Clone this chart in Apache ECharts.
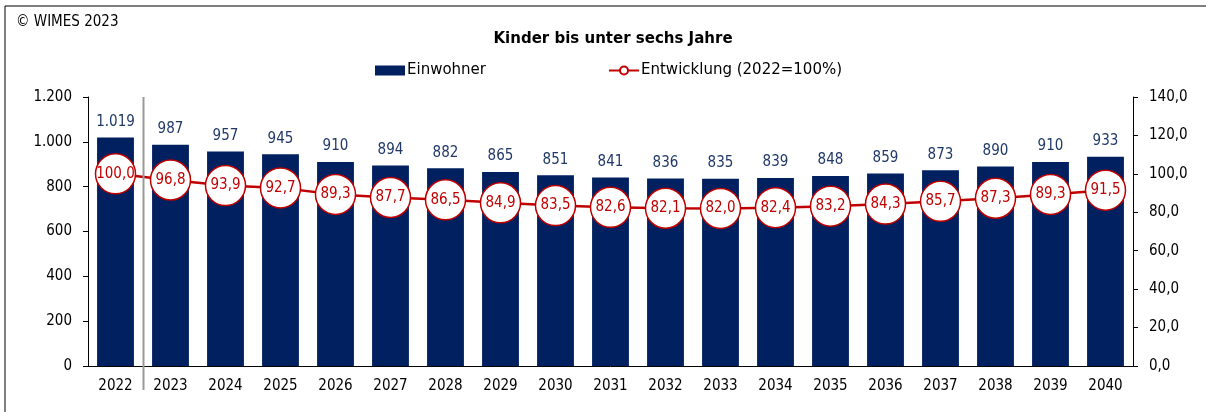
<!DOCTYPE html>
<html>
<head>
<meta charset="utf-8">
<script src="https://cdn.jsdelivr.net/npm/echarts@6/dist/echarts.min.js"></script>
<style>
  body { margin: 0; background: #fff; }
  #main { width: 1206px; height: 412px; }
</style>
</head>
<body>
<div id="main"></div>
<script>
var years = ['2022','2023','2024','2025','2026','2027','2028','2029','2030','2031','2032','2033','2034','2035','2036','2037','2038','2039','2040'];
var einwohner = [1019, 987, 957, 945, 910, 894, 882, 865, 851, 841, 836, 835, 839, 848, 859, 873, 890, 910, 933];
var entwicklung = [100.0, 96.8, 93.9, 92.7, 89.3, 87.7, 86.5, 84.9, 83.5, 82.6, 82.1, 82.0, 82.4, 83.2, 84.3, 85.7, 87.3, 89.3, 91.5];

var font = '"DejaVu Sans Condensed", "DejaVu Sans"';
var wide = '"DejaVu Sans"';
var myChart = echarts.init(document.getElementById('main'));

function deNum(v, dec) {
  var s = v.toFixed(dec).replace('.', ',');
  var parts = s.split(',');
  parts[0] = parts[0].replace(/\B(?=(\d{3})+(?!\d))/g, '.');
  return parts.join(',');
}

var option = {
  animation: false,
  backgroundColor: '#fff',
  textStyle: { fontFamily: font },
  title: {
    text: 'Kinder bis unter sechs Jahre',
    left: 608, top: 27, textAlign: 'center',
    textStyle: { fontFamily: wide, fontSize: 15, fontWeight: 'bold', color: '#000' }
  },
  legend: [{
    data: [{ name: 'Einwohner', icon: 'rect' }],
    left: 370, top: 58,
    itemWidth: 30, itemHeight: 10,
    textStyle: { fontFamily: wide, fontSize: 15, color: '#000', padding: [0, 0, 0, -3] }
  }, {
    data: ['Entwicklung (2022=100%)'],
    left: 603, top: 58,
    itemWidth: 30, itemHeight: 10,
    textStyle: { fontFamily: wide, fontSize: 15, color: '#000', padding: [0, 0, 0, -3] }
  }],
  grid: { left: 88, right: 73, top: 97, bottom: 46 },
  xAxis: {
    type: 'category',
    data: years,
    axisLine: { lineStyle: { color: '#000', width: 1 } },
    axisTick: { length: 6, lineStyle: { color: '#000' } },
    axisLabel: { color: '#000', fontSize: 15, margin: 13, fontFamily: font }
  },
  yAxis: [{
    type: 'value', min: 0, max: 1200, interval: 200,
    axisLine: { show: true, lineStyle: { color: '#000' } },
    axisTick: { show: true, length: 5, lineStyle: { color: '#000' } },
    splitLine: { show: false },
    axisLabel: { color: '#000', fontSize: 15, margin: 16, fontFamily: font,
      formatter: function (v) { return deNum(v, 0); } }
  }, {
    type: 'value', min: 0, max: 140, interval: 20,
    axisLine: { show: true, lineStyle: { color: '#000' } },
    axisTick: { show: true, length: 5, lineStyle: { color: '#000' } },
    splitLine: { show: false },
    axisLabel: { color: '#000', fontSize: 15, margin: 16, fontFamily: font,
      formatter: function (v) { return deNum(v, 1); } }
  }],
  series: [{
    name: 'Einwohner',
    type: 'bar',
    data: einwohner,
    barCategoryGap: '33%',
    itemStyle: { color: '#002060' },
    label: {
      show: true, position: 'top', distance: 8,
      color: '#1f3868', fontSize: 15, fontFamily: font,
      formatter: function (p) { return deNum(p.value, 0); }
    }
  }, {
    name: 'Entwicklung (2022=100%)',
    type: 'line',
    yAxisIndex: 1,
    data: entwicklung,
    symbol: 'circle',
    symbolSize: 40,
    lineStyle: { color: '#c00000', width: 2.5 },
    itemStyle: { color: '#fff', borderColor: '#c00000', borderWidth: 1.5 },
    label: {
      show: true, position: 'inside',
      color: '#c00000', fontSize: 15, fontFamily: font,
      formatter: function (p) { return deNum(p.value, 1); }
    },
    z: 5
  }]
};
myChart.setOption(option);

// separator between the actual year and the forecast
var p0 = myChart.convertToPixel({ xAxisIndex: 0 }, years[0]);
var p1 = myChart.convertToPixel({ xAxisIndex: 0 }, years[1]);
var yTop = myChart.convertToPixel({ yAxisIndex: 0 }, 1200);
var sepX = Math.round((p0 + p1) / 2) + 0.5;
myChart.setOption({
  graphic: [{
    id: 'copy', type: 'text', left: 16, top: 15,
    style: { text: '© WIMES 2023', font: '15px ' + font, fill: '#000' }
  }, {
    id: 'frameTop', type: 'line',
    shape: { x1: 5, y1: 6, x2: 1206, y2: 6 },
    style: { stroke: '#555', lineWidth: 1.5 }
  }, {
    id: 'frameLeft', type: 'line',
    shape: { x1: 5, y1: 6, x2: 5, y2: 412 },
    style: { stroke: '#000', lineWidth: 1 }
  }, {
    id: 'sep', type: 'line',
    shape: { x1: sepX, y1: yTop, x2: sepX, y2: 390 },
    style: { stroke: '#999', lineWidth: 2 },
    z: 10
  }]
});
</script>
</body>
</html>
